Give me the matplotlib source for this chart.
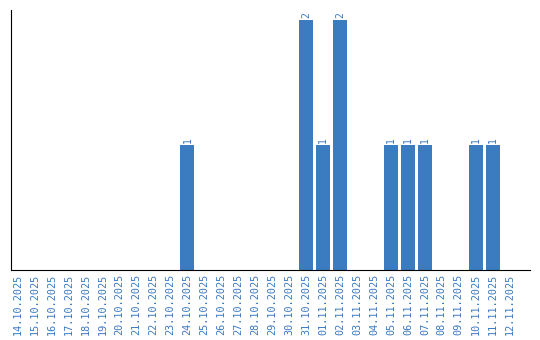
import numpy as np
import matplotlib
matplotlib.use("Agg")
import matplotlib.pyplot as plt

dates = ["14.10.2025", "15.10.2025", "16.10.2025", "17.10.2025", "18.10.2025",
         "19.10.2025", "20.10.2025", "21.10.2025", "22.10.2025", "23.10.2025",
         "24.10.2025", "25.10.2025", "26.10.2025", "27.10.2025", "28.10.2025",
         "29.10.2025", "30.10.2025", "31.10.2025", "01.11.2025", "02.11.2025",
         "03.11.2025", "04.11.2025", "05.11.2025", "06.11.2025", "07.11.2025",
         "08.11.2025", "09.11.2025", "10.11.2025", "11.11.2025", "12.11.2025"]
counts = [0, 0, 0, 0, 0, 0, 0, 0, 0, 0,
          1, 0, 0, 0, 0, 0, 0, 2, 1, 2,
          0, 0, 1, 1, 1, 0, 0, 1, 1, 0]

bar_color = "#3b7bbf"
text_color = "#3a78c0"

fig = plt.figure(figsize=(5.4, 3.4), dpi=100)
ax = fig.add_axes([0.02, 0.206, 0.961, 0.764])

x = np.arange(len(dates))
ax.bar(x, counts, width=0.82, color=bar_color)
for xi, c in zip(x, counts):
    if c > 0:
        ax.text(xi, c + 0.02, str(c), rotation=90, ha="center", va="bottom",
                fontsize=7, color=text_color, family="DejaVu Sans Mono")

ax.set_xlim(-0.41, 30.18)
ax.set_ylim(0, 2.08)
ax.set_xticks(x)
ax.set_xticklabels(dates, rotation=90, fontsize=7.3, color=text_color,
                   family="DejaVu Sans Mono")
ax.tick_params(axis="x", length=0, pad=3)
ax.set_yticks([])
ax.spines["top"].set_visible(False)
ax.spines["right"].set_visible(False)

fig.savefig("out.png", dpi=100)
